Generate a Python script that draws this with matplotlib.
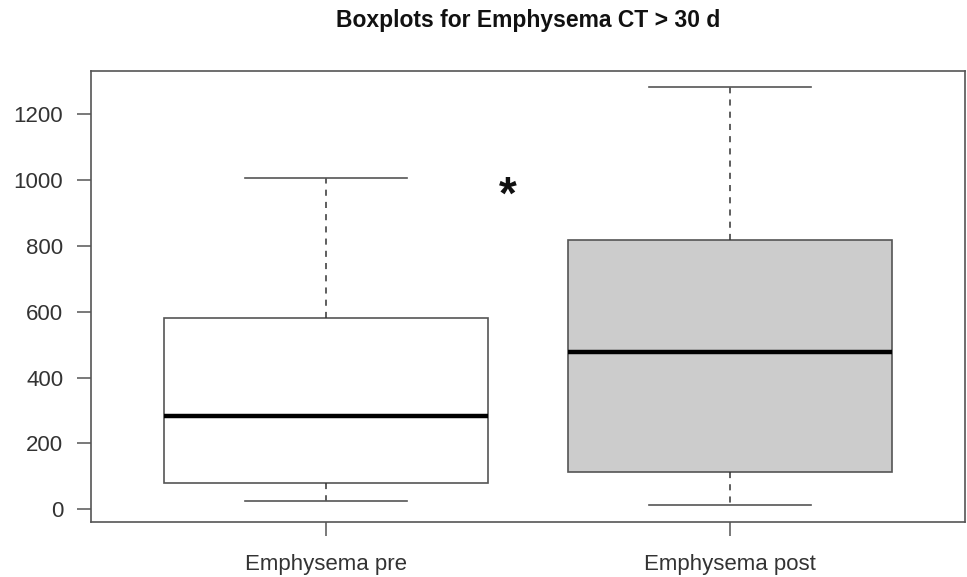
import matplotlib
matplotlib.use("Agg")
import matplotlib.pyplot as plt

plt.rcParams['font.family'] = ['Liberation Sans', 'DejaVu Sans']

# values
labels = ["Emphysema pre", "Emphysema post"]
whisker_low = [25, 12]
q1 = [79, 114]
median = [283, 479]
q3 = [580, 819]
whisker_high = [1005, 1281]
fills = ["white", "#cccccc"]
star_x = 1.45
star_y = 950

stats = []
for i in range(len(labels)):
    stats.append({
        "label": labels[i],
        "whislo": whisker_low[i],
        "q1": q1[i],
        "med": median[i],
        "q3": q3[i],
        "whishi": whisker_high[i],
        "fliers": [],
    })

fig = plt.figure(figsize=(9.67, 5.77), dpi=100)
ax = fig.add_axes([91 / 967, 1 - 522 / 577, (965 - 91) / 967, (522 - 71) / 577])

edge = "#555555"
bp = ax.bxp(stats, positions=[1, 2], widths=0.8, patch_artist=True,
            showfliers=False,
            boxprops=dict(edgecolor=edge, linewidth=1.2),
            medianprops=dict(color="black", linewidth=3.2, solid_capstyle="butt"),
            whiskerprops=dict(color="#333333", linewidth=1.1, linestyle=(0, (4, 4))),
            capprops=dict(color=edge, linewidth=1.2),
            capwidths=0.4)
for patch, c in zip(bp["boxes"], fills):
    patch.set_facecolor(c)

ax.text(star_x, star_y, "*", fontsize=33, fontweight="bold",
        ha="center", va="center", color="#111111")

ax.set_xlim(0.42, 2.58)
ax.set_ylim(-38.7, 1330.7)
ax.set_yticks([0, 200, 400, 600, 800, 1000, 1200])
ax.set_xticks([1, 2])
ax.set_xticklabels(labels)

for s in ax.spines.values():
    s.set_color(edge)
    s.set_linewidth(1.2)

ax.tick_params(axis="both", direction="out", length=10, width=1.1, color=edge,
               labelsize=16, labelcolor="#333333")
ax.tick_params(axis="x", pad=13)
ax.tick_params(axis="y", pad=10)

fig.text(528 / 967, 1 - 20 / 577, "Boxplots for Emphysema CT > 30 d",
         ha="center", va="center", fontsize=16.5, fontweight="bold", color="#111111")

fig.savefig("out.png", dpi=100)
